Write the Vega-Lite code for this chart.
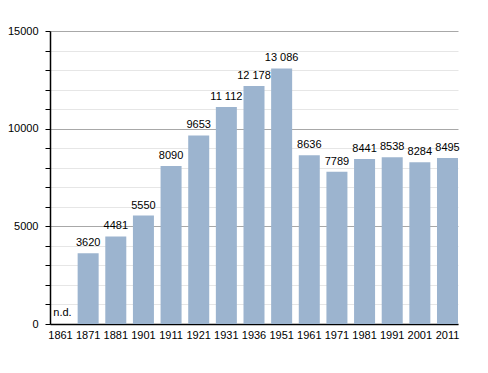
{
  "$schema": "https://vega.github.io/schema/vega-lite/v6.json",
  "autosize": "none",
  "width": 408,
  "height": 293,
  "padding": {"left": 50, "top": 31, "right": 30, "bottom": 49},
  "background": "white",
  "config": {
    "view": {"stroke": null},
    "font": "Liberation Sans",
    "axis": {"labelFont": "Liberation Sans", "labelFontSize": 11, "labelColor": "#000", "domainColor": "#000", "tickColor": "#000"}
  },
  "data": {
    "values": [
      {"year": "1861", "pop": 0, "label": "n.d."},
      {"year": "1871", "pop": 3620, "label": "3620"},
      {"year": "1881", "pop": 4481, "label": "4481"},
      {"year": "1901", "pop": 5550, "label": "5550"},
      {"year": "1911", "pop": 8090, "label": "8090"},
      {"year": "1921", "pop": 9653, "label": "9653"},
      {"year": "1931", "pop": 11112, "label": "11 112"},
      {"year": "1936", "pop": 12178, "label": "12 178"},
      {"year": "1951", "pop": 13086, "label": "13 086"},
      {"year": "1961", "pop": 8636, "label": "8636"},
      {"year": "1971", "pop": 7789, "label": "7789"},
      {"year": "1981", "pop": 8441, "label": "8441"},
      {"year": "1991", "pop": 8538, "label": "8538"},
      {"year": "2001", "pop": 8284, "label": "8284"},
      {"year": "2011", "pop": 8495, "label": "8495"}
    ]
  },
  "encoding": {
    "x": {
      "field": "year", "type": "ordinal", "sort": null,
      "scale": {"paddingInner": 0.24, "paddingOuter": 0.0},
      "axis": {"title": null, "labelAngle": 0, "ticks": false, "labelPadding": 5, "domainWidth": 1.5}
    },
    "y": {
      "field": "pop", "type": "quantitative",
      "scale": {"domain": [0, 15000], "nice": false},
      "axis": {
        "title": null,
        "values": [0,1000,2000,3000,4000,5000,6000,7000,8000,9000,10000,11000,12000,13000,14000,15000],
        "labelExpr": "datum.value % 5000 === 0 ? format(datum.value, 'd') : ''",
        "grid": true,
        "gridColor": {"condition": {"test": "datum.value % 5000 === 0", "value": "#a8a8a8"}, "value": "#e6e6e6"},
        "tickSize": 5,
        "labelPadding": 7,
        "domainWidth": 1.5
      }
    }
  },
  "layer": [
    {"mark": {"type": "bar", "color": "#9cb4cf"}},
    {
      "transform": [{"filter": "datum.pop > 0"}],
      "mark": {"type": "text", "baseline": "bottom", "dy": -5, "fontSize": 11, "color": "#000"},
      "encoding": {"text": {"field": "label"}}
    },
    {
      "transform": [{"filter": "datum.pop == 0"}],
      "mark": {"type": "text", "baseline": "bottom", "dy": -6, "dx": 2, "fontSize": 11, "color": "#000"},
      "encoding": {"text": {"field": "label"}}
    }
  ]
}
